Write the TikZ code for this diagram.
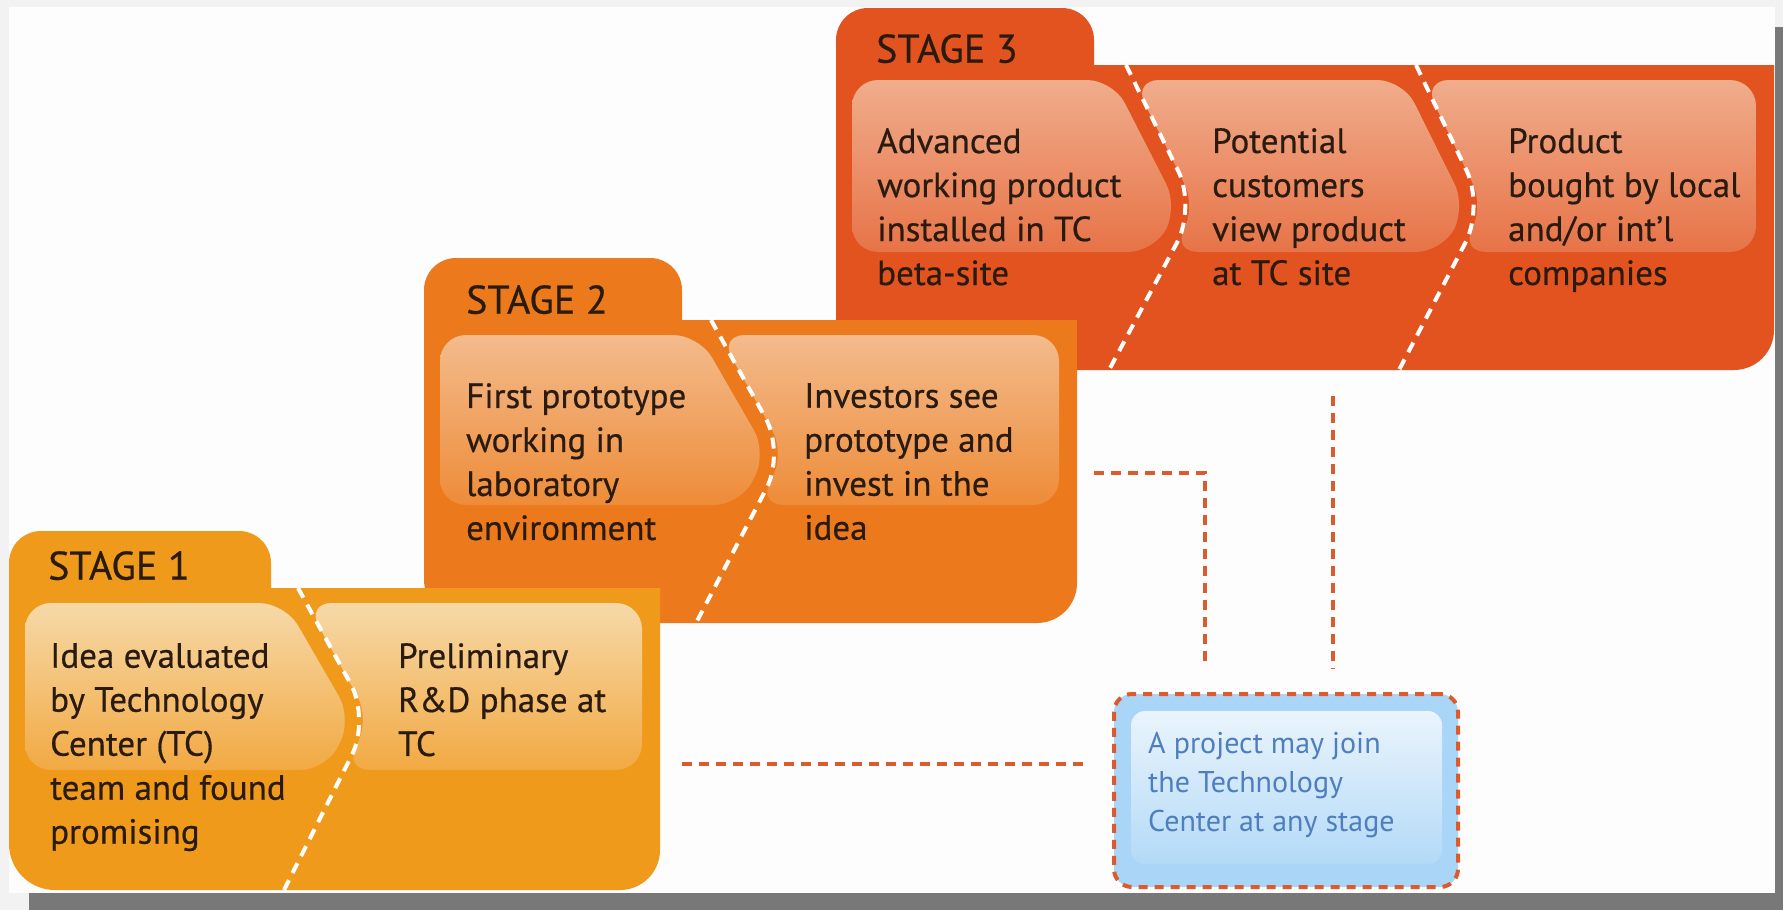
\documentclass[tikz,border=0pt]{standalone}
\usepackage{fontspec}
\setmainfont{PT Sans}
\newfontfamily\txtfont[FakeBold=0.5]{PT Sans}
\definecolor{bgc}{HTML}{F2F2F2}
\definecolor{shadowc}{HTML}{787878}
\definecolor{paperc}{HTML}{FDFDFD}
\definecolor{sA}{HTML}{F09A1C}
\definecolor{sAtop}{HTML}{F6D9A8}
\definecolor{sAbot}{HTML}{F2A943}
\definecolor{sB}{HTML}{EC7A1C}
\definecolor{sBtop}{HTML}{F3BB8D}
\definecolor{sBbot}{HTML}{EE8C38}
\definecolor{sC}{HTML}{E2531F}
\definecolor{sCtop}{HTML}{F0AD8C}
\definecolor{sCbot}{HTML}{E77347}
\definecolor{ink}{HTML}{2A1B10}
\definecolor{connc}{HTML}{DC5A2C}
\definecolor{blueout}{HTML}{A9D6F6}
\definecolor{bluetop}{HTML}{EAF4FC}
\definecolor{bluebot}{HTML}{B3DAF7}
\definecolor{bluetxt}{HTML}{4E7EBE}
\tikzset{
  divider/.style={white, line width=4, dash pattern=on 11 off 8},
  conn/.style={connc, line width=4.5, dash pattern=on 10 off 7},
  txt/.style={anchor=north west, inner sep=0, align=left, text=ink,
    font=\txtfont\fontsize{35}{44}\selectfont},
  stagelbl/.style={anchor=north west, inner sep=0, text=ink,
    font=\txtfont\fontsize{40}{48}\selectfont},
  notebox/.style={draw=connc, line width=4, dash pattern=on 9 off 7,
    fill=blueout, rounded corners=18, minimum width=344, minimum height=193, inner sep=0},
  notetxt/.style={anchor=north west, inner sep=0, align=left, text=bluetxt,
    font=\fontsize{30}{39}\selectfont},
  panel/.style={rounded corners=26},
}
\begin{document}
\begin{tikzpicture}[x=1pt,y=-1pt]
\useasboundingbox (0,0) rectangle (1783,910);
% frame
\fill[bgc] (0,0) rectangle (1783,910);
\fill[shadowc] (29,27) rectangle (1783,910);
\fill[paperc] (9,7) rectangle (1775,893);

% ---------- STAGE 3 ----------
\fill[sC] (836,200) [rounded corners=32] -- (836,8) -- (1094,8)
  [sharp corners] -- (1094,65) -- (1774,65) [rounded corners=40] -- (1774,370)
  [rounded corners=44] -- (836,370) -- cycle;
\shade[panel, top color=sCtop, bottom color=sCbot]
  (852,80) -- (1113,80) -- (1178,207) -- (1154,252) -- (852,252) -- cycle;
\shade[panel, top color=sCtop, bottom color=sCbot]
  (1133,80) -- (1403,80) -- (1466,207) -- (1442,252) -- (1172,252) -- (1196,207) -- cycle;
\shade[panel, top color=sCtop, bottom color=sCbot]
  (1423,80) -- (1756,80) -- (1756,252) -- (1460,252) -- (1484,207) -- cycle;
\draw[divider] (1126,65) [rounded corners=40] -- (1196,207) -- (1109,370);
\draw[divider] (1416,65) [rounded corners=40] -- (1484,207) -- (1399,370);
\node[stagelbl] (st3) at (876,34) {STAGE 3};
\node[txt] (t3a) at (877,128) {Advanced\\working product\\installed in TC\\beta-site};
\node[txt] (t3b) at (1212,128) {Potential\\customers\\view product\\at TC site};
\node[txt] (t3c) at (1508,128) {Product\\bought by local\\and/or int’l\\companies};
\coordinate (s3b) at (1333,370);

% ---------- STAGE 2 ----------
\fill[sB] (424,450) [rounded corners=32] -- (424,258) -- (682,258)
  [sharp corners] -- (682,320) -- (1077,320) [rounded corners=40] -- (1077,623)
  [rounded corners=44] -- (424,623) -- cycle;
\shade[panel, top color=sBtop, bottom color=sBbot]
  (440,335) -- (699,335) -- (767,453) -- (740,505) -- (440,505) -- cycle;
\shade[panel, top color=sBtop, bottom color=sBbot]
  (719,335) -- (1059,335) -- (1059,505) -- (758,505) -- (785,453) -- cycle;
\draw[divider] (711,320) [rounded corners=40] -- (785,453) -- (696,623);
\node[stagelbl] (st2) at (466,285) {STAGE 2};
\node[txt] (t2a) at (466,383) {First prototype\\working in\\laboratory\\environment};
\node[txt] (t2b) at (804,383) {Investors see\\prototype and\\invest in the\\idea};
\coordinate (s2r) at (1077,473);

% ---------- STAGE 1 ----------
\fill[sA] (9,700) [rounded corners=32] -- (9,531) -- (271,531)
  [sharp corners] -- (271,588) -- (660,588) [rounded corners=40] -- (660,890)
  [rounded corners=46] -- (9,890) -- cycle;
\shade[panel, top color=sAtop, bottom color=sAbot]
  (25,603) -- (285,603) -- (352,719) -- (326,770) -- (25,770) -- cycle;
\shade[panel, top color=sAtop, bottom color=sAbot]
  (306,603) -- (642,603) -- (642,770) -- (344,770) -- (370,719) -- cycle;
\draw[divider] (298,588) [rounded corners=40] -- (370,719) -- (284,890);
\node[stagelbl] (st1) at (48,551) {STAGE 1};
\node[txt] (t1a) at (50,643) {Idea evaluated\\by Technology\\Center (TC)\\team and found\\promising};
\node[txt] (t1b) at (398,643) {Preliminary\\R\&D phase at\\TC};
\coordinate (s1r) at (660,764);

% ---------- NOTE ----------
\node[notebox] (note) at (1286,790.5) {};
\shade[top color=bluetop, bottom color=bluebot, rounded corners=14]
  (1131,711) rectangle (1442,864);
\node[notetxt] (ntxt) at (1148,732) {A project may join\\the Technology\\Center at any stage};

% ---------- connectors ----------
\coordinate (bend2) at (1205,473);
\draw[conn, shorten <=22, shorten >=28] (s1r) -- (note.west |- s1r);
\draw[conn, shorten <=17, shorten >=29] (s2r) -| (bend2 |- note.north);
\draw[conn, shorten <=26, shorten >=23] (s3b) -- (s3b |- note.north);
\end{tikzpicture}
\end{document}
